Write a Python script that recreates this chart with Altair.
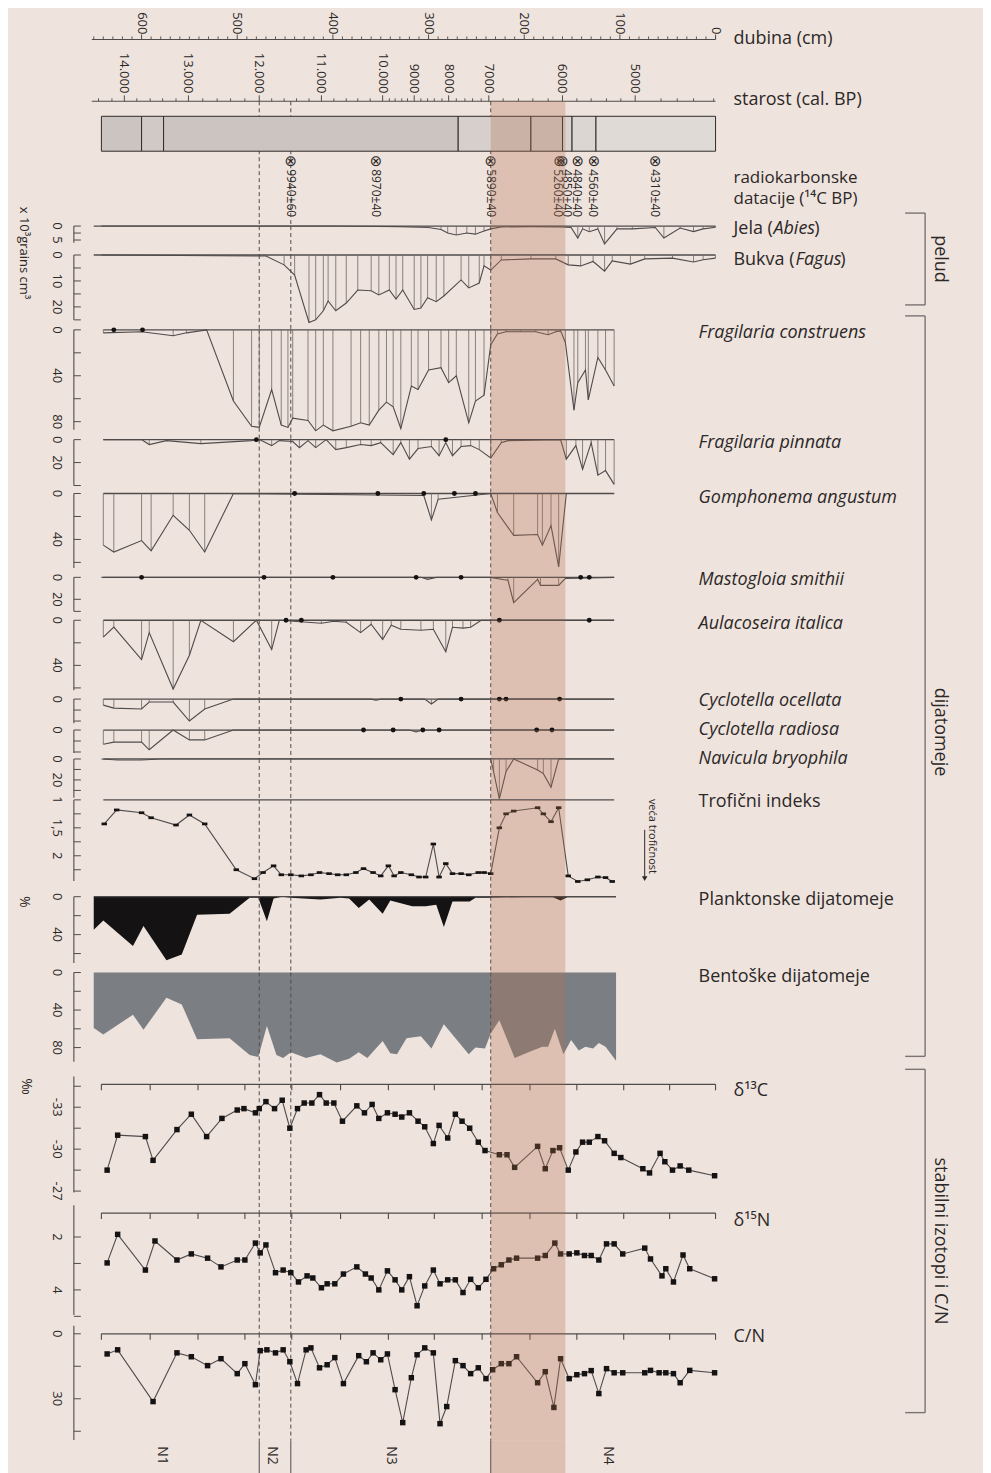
import altair as alt
import pandas as pd

# ---------------------------------------------------------------- style
FONT = "Open Sans"
NUM = "'Liberation Sans Narrow', 'Open Sans', sans-serif"
BG = "#efe3dd"
INK = "#2b2828"
LINE = "#4f4b4b"
HATCH = "#6d6767"
DOT = "#141212"
BAND_COLOR = "#b36f50"
BAND_OP = 0.3
W = 625
XDOM = [652, 0]
LX = 608   # species labels, px from plot left
RX = 643   # other right-hand labels

# ---------------------------------------------------------------- axes / ticks
depth_major = [0, 100, 200, 300, 400, 500, 600]
depth_minor = [0, 10, 20, 30, 40, 50, 60, 70, 80, 90, 110, 120, 130, 140, 150, 160, 170, 180, 190,
               210, 220, 230, 240, 250, 260, 270, 280, 290, 310, 320, 330, 340, 350, 360, 370, 380, 390,
               410, 420, 430, 440, 450, 460, 470, 480, 490, 510, 520, 530, 540, 550, 560, 570, 580, 590,
               610, 620, 630, 640, 650]
age_labels = ["14.000", "13.000", "12.000", "11.000", "10.000", "9000", "8000", "7000", "6000", "5000"]
age_depths = [618, 551, 477, 412, 348, 315, 279, 237, 160, 84]
age_minor = [645, 631, 605, 591, 578, 564, 536, 521, 507, 492, 464, 451, 438, 425, 399, 386, 374, 361,
             341, 335, 328, 322, 308, 301, 294, 286, 271, 262, 254, 245, 222, 206, 191, 175,
             145, 130, 114, 99, 57, 40, 23, 2]
iso_ticks = [642, 591, 541, 492, 443, 392, 342, 294, 244, 194, 145, 96, 48, 0]

# lithology
lith_start = [642, 600, 577, 269, 193, 160, 150, 125]
lith_end = [600, 577, 269, 193, 160, 150, 125, 0]
lith_fill = ["#cbc4c1", "#d0c9c6", "#cbc4c1", "#d6cfcc", "#d6cfcc", "#dad3d0", "#dcd6d3", "#e0dad7"]

# radiocarbon dates
c14_symbol_d = [444, 355, 235, 163, 160, 144, 127, 63]
c14_label_d = [444, 355, 235, 165, 155, 145, 128, 63]
c14_labels = ["9940±60", "8970±40", "5890±40", "5260±40", "4850±40", "4840±40", "4560±40", "4310±40"]

zone_bounds = [477, 444, 235]
band_depths = [235, 157]
zone_names = ["N1", "N2", "N3", "N4"]
zone_label_d = [579, 464, 339, 112]

# ---------------------------------------------------------------- series
jela_d = [642, 400, 330, 300, 287, 280, 271, 260, 251, 242, 235, 224, 193, 162, 151, 144, 139, 132, 123, 116,
          103, 87, 63, 54, 37, 23, 13, 0]
jela_v = [0, 0, 0.2, 0.5, 1.2, 2.5, 3.2, 2.5, 2.9, 1.8, 1, 0.3, 0.2, 0.3, 0.5, 4.3, 1, 2, 1, 6.4,
          1, 1, 0.5, 4.3, 0.7, 2, 1, 0.4]

bukva_d = [642, 470, 451, 440, 425, 418, 410, 405, 397, 386, 374, 360, 352, 341, 334, 327, 315, 308, 301, 292,
           284, 266, 258, 247, 242, 235, 224, 193, 167, 154, 141, 128, 116, 108, 89, 74, 45, 23, 13, 0]
bukva_v = [0, 0.4, 3.8, 7.7, 26, 25, 21.5, 17.7, 21.5, 18.5, 13.5, 13.8, 15.4, 13.5, 17, 13.5, 21, 20.4, 16.5, 18,
           15.8, 9.6, 12.7, 10.8, 4.2, 5.8, 1.9, 1.5, 1.5, 3.8, 4.2, 2.5, 6.2, 2.3, 3.5, 1.5, 1.2, 2.7, 1.8, 1.2]

fcon_d = [640, 600, 567, 553, 532, 504, 485, 477, 464, 454, 447, 442, 426, 418, 410, 400, 381, 371, 362, 352,
          344, 337, 329, 318, 311, 300, 287, 279, 271, 258, 251, 242, 235, 228, 219, 204, 188, 175, 167, 162,
          157, 148, 144, 136, 133, 123, 115, 106]
fcon_v = [2.6, 1.7, 5.2, 2.6, 0, 62, 84, 85, 52, 83, 85, 77, 79, 88, 83, 88, 84, 81, 83, 70,
          63, 67, 86, 49, 52, 35, 33, 46, 40, 81, 62, 57, 13, 3.5, 1.7, 1.7, 1.7, 4.3, 1.7, 0.9,
          11, 70, 46, 35, 61, 24, 35, 49]
fcon_dots = [629, 599]

fpin_d = [640, 600, 592, 574, 538, 485, 477, 464, 456, 442, 435, 426, 418, 407, 397, 386, 371, 360, 350, 337,
          329, 320, 311, 297, 289, 282, 275, 266, 256, 247, 235, 224, 217, 162, 156, 146, 139, 130, 123, 115, 106]
fpin_v = [0, 0, 4.3, 0.9, 3.5, 0.9, 0, 5.2, 0.9, 1.7, 7, 0.9, 7, 0, 8.7, 7, 4.3, 5.2, 2.6, 13,
          2.6, 17, 7.8, 6, 14, 2.6, 14, 6, 5.2, 8.7, 16, 2.6, 0.9, 0, 17, 5.2, 26, 2.6, 31, 27, 39]
fpin_dots = [480, 282]

gomph_d = [640, 629, 600, 590, 567, 550, 534, 504, 305, 297, 290, 235, 228, 211, 186, 181, 172, 164, 156, 106]
gomph_v = [45, 51, 41, 50, 19, 32, 51, 0, 1.7, 23, 5, 0, 16.5, 36.5, 35.7, 45, 28, 64, 0, 0]
gomph_dots = [440, 353, 305, 273, 251]

mast_d = [642, 308, 301, 292, 235, 224, 217, 211, 186, 183, 164, 157, 106]
mast_v = [0, 0, 1.8, 0, 0, 1.8, 2.7, 23, 1.8, 7.3, 7.3, 0.9, 0]
mast_dots = [600, 472, 400, 313, 266, 141, 132]

aul_d = [640, 629, 600, 592, 567, 550, 538, 504, 480, 464, 456, 412, 399, 386, 371, 360, 348, 339, 329, 308,
         295, 282, 275, 264, 256, 245, 106]
aul_v = [15, 6, 35, 11, 61, 31, 0, 19, 0, 26, 0, 2.7, 0.9, 1.8, 11, 3.5, 17, 4.4, 8, 8.8,
         8, 28, 6.2, 7, 6.2, 0, 0]
aul_dots = [449, 433, 226, 132]

coc_d = [640, 629, 600, 592, 567, 550, 534, 504, 360, 355, 350, 304, 297, 290, 106]
coc_v = [5.5, 8.2, 9, 2.7, 2.7, 20, 9, 0, 0, 0.9, 0, 0, 4.5, 0, 0]
coc_dots = [329, 266, 226, 219, 163]

crad_d = [640, 629, 600, 592, 567, 550, 534, 504, 320, 313, 306, 106]
crad_v = [13, 11, 11, 18, 0, 9, 9, 0, 0, 1.8, 0, 0]
crad_dots = [368, 337, 306, 289, 187, 171]

nav_d = [642, 625, 600, 580, 235, 232, 226, 219, 211, 186, 180, 172, 164, 106]
nav_v = [0, 1, 1, 0, 0, 12, 38, 12, 0, 10.5, 14, 27, 0, 0]

trof_d = [639, 626, 600, 590, 564, 550, 534, 501, 482, 473, 462, 454, 444, 433, 423, 414, 404, 395, 386, 376,
          368, 358, 350, 342, 336, 329, 318, 310, 303, 295, 289, 282, 275, 266, 258, 248, 242, 235, 226, 219,
          211, 186, 180, 172, 164, 154, 144, 134, 123, 115, 108]
trof_v = [1.43, 1.18, 1.23, 1.32, 1.45, 1.27, 1.43, 2.25, 2.41, 2.30, 2.18, 2.34, 2.34, 2.36, 2.34, 2.30, 2.32,
          2.34, 2.34, 2.30, 2.23, 2.30, 2.36, 2.18, 2.36, 2.30, 2.34, 2.38, 2.38, 1.79, 2.38, 2.14, 2.32, 2.32,
          2.34, 2.30, 2.30, 2.32, 1.50, 1.25, 1.20, 1.14, 1.25, 1.39, 1.14, 2.36, 2.46, 2.43, 2.38, 2.39, 2.46]

plank_d = [650, 640, 609, 598, 574, 558, 542, 508, 487, 478, 469, 462, 453, 444, 413, 392, 383, 373, 362, 348,
           340, 317, 303, 292, 284, 275, 257, 251, 236, 200, 170, 162, 155, 104]
plank_v = [35, 25, 52, 31, 67, 61, 19, 18, 1, 1, 26, 2, 0, 1, 3, 1, 2, 12, 3, 18,
           4, 10, 10, 8.5, 32, 5, 5, 1, 1, 0.5, 0.5, 4, 0.5, 0.5]

bent_d = [650, 640, 609, 598, 574, 558, 542, 508, 487, 478, 469, 459, 452, 444, 428, 413, 396, 383, 373, 364,
          348, 340, 333, 323, 308, 297, 284, 258, 251, 241, 235, 226, 210, 193, 181, 175, 168, 159, 151, 143,
          136, 128, 122, 115, 104]
bent_v = [59, 66, 45, 61, 27, 34, 71, 70, 88, 90, 57, 88, 91, 85, 91, 87, 96, 92, 85, 91,
          73, 86, 87, 70, 68, 81, 55, 87, 80, 81, 65, 51, 91, 84, 79, 79, 60, 87, 72, 83,
          79, 81, 75, 79, 94]

d13c_d = [636, 625, 596, 588, 563, 548, 532, 516, 500, 493, 481, 477, 470, 461, 453, 445, 437, 430, 422, 414,
          407, 399, 390, 375, 367, 359, 352, 343, 335, 328, 320, 311, 304, 295, 289, 280, 272, 265, 257, 248,
          241, 226, 218, 210, 186, 178, 170, 163, 154, 146, 139, 132, 123, 116, 106, 99, 76, 69, 58, 53,
          45, 37, 28, 1]
d13c_v = [-28.5, -31.0, -30.9, -29.2, -31.4, -32.5, -30.9, -32.2, -32.8, -32.9, -32.6, -32.9, -33.4, -32.9,
          -33.5, -31.5, -32.9, -33.3, -33.3, -33.9, -33.3, -33.3, -32.0, -33.1, -32.6, -33.2, -32.2, -32.6,
          -32.5, -32.3, -32.6, -32.0, -31.6, -30.4, -31.7, -30.8, -32.5, -32.0, -31.5, -30.5, -29.9, -29.6,
          -29.6, -28.7, -30.2, -28.6, -29.9, -30.1, -28.5, -29.8, -30.5, -30.5, -30.9, -30.6, -29.7, -29.4,
          -28.6, -28.3, -29.7, -29.1, -28.5, -28.8, -28.5, -28.1]

d15n_d = [636, 625, 596, 586, 563, 548, 531, 517, 500, 492, 481, 476, 470, 460, 452, 444, 436, 427, 421, 412,
          406, 398, 389, 375, 366, 360, 352, 343, 335, 328, 320, 312, 304, 295, 288, 280, 272, 264, 256, 248,
          240, 232, 224, 216, 208, 186, 178, 168, 162, 153, 145, 137, 130, 122, 114, 106, 97, 74, 68, 56,
          52, 44, 34, 27, 1]
d15n_v = [2.98, 1.9, 3.25, 2.15, 2.87, 2.64, 2.8, 3.13, 2.87, 2.87, 2.23, 2.6, 2.3, 3.35, 3.25, 3.35, 3.7, 3.47,
          3.55, 3.92, 3.77, 3.77, 3.4, 3.13, 3.4, 3.55, 4.0, 3.28, 3.62, 4.0, 3.5, 4.6, 3.85, 3.25, 3.77, 3.62,
          3.62, 4.1, 3.6, 3.92, 3.6, 3.2, 3.05, 2.87, 2.8, 2.8, 2.7, 2.23, 2.64, 2.64, 2.6, 2.7, 2.7, 2.87,
          2.26, 2.26, 2.64, 2.42, 2.83, 3.47, 3.2, 3.7, 2.68, 3.2, 3.58]

cn_d = [636, 625, 588, 563, 548, 531, 517, 500, 492, 481, 476, 469, 460, 452, 445, 437, 428, 423, 414, 406,
        398, 389, 373, 365, 358, 350, 343, 335, 327, 318, 312, 304, 295, 288, 281, 272, 264, 256, 248, 240,
        233, 224, 216, 208, 186, 178, 169, 162, 153, 145, 137, 130, 122, 114, 106, 97, 74, 68, 59, 52,
        44, 37, 27, 1]
cn_v = [9.3, 7.4, 31.3, 8.8, 10.6, 14.7, 11.5, 18.4, 13.8, 23.5, 7.8, 7.4, 8.8, 7.4, 12.9, 23, 7.4, 6.5, 15.7,
        14.3, 11, 23, 10.1, 12.9, 8.8, 12, 9.3, 25.8, 41, 20.3, 9.7, 6.5, 8.8, 41.5, 33.6, 12.4, 14.7, 18.4,
        15.7, 20.7, 16.6, 13.8, 13.8, 10.6, 22.6, 17.5, 34, 11.5, 20.7, 18.9, 18.4, 17, 27.6, 16.1, 18, 18,
        18, 16.9, 18, 18, 18.4, 22.6, 16.9, 18]

# ---------------------------------------------------------------- helpers
ONE = pd.DataFrame({"k": [0]})


def X(f):
    return alt.X(f"{f}:Q", scale=alt.Scale(domain=XDOM, nice=False, zero=False), axis=None)


def ysc(dom):
    return alt.Scale(domain=dom, reverse=True, nice=False, zero=False)


def Y(f, dom):
    return alt.Y(f"{f}:Q", scale=ysc(dom), axis=None)


def fmt(v):
    s = str(int(v)) if float(v).is_integer() else str(v)
    return s.replace(".", ",")


def txt(s, x, y, size=18, style="normal", align="left", angle=0, font=FONT, baseline="middle", color=INK):
    mk = dict(align=align, baseline=baseline, fontSize=size, font=font, fontStyle=style, color=color)
    if angle:
        mk["angle"] = angle
    return alt.Chart(pd.DataFrame({"t": [s]})).mark_text(**mk).encode(
        x=alt.value(x), y=alt.value(y), text="t:N")


def prule(x, y, x2=None, y2=None, color="#7a7474", width=1.4):
    enc = {"x": alt.value(x), "y": alt.value(y)}
    if x2 is not None:
        enc["x2"] = alt.value(x2)
    if y2 is not None:
        enc["y2"] = alt.value(y2)
    return alt.Chart(ONE).mark_rule(color=color, strokeWidth=width).encode(**enc)


def bracket(y0, y1):
    return [prule(835, y0, y2=y1), prule(815, y0, x2=835), prule(815, y1, x2=835)]


BAND = pd.DataFrame({"b1": [band_depths[0]], "b2": [band_depths[1]]})


def band(h):
    return alt.Chart(BAND).mark_rect(color=BAND_COLOR, opacity=BAND_OP).encode(
        x=X("b1"), x2="b2", y=alt.value(0), y2=alt.value(h))


ZB = pd.DataFrame({"d": zone_bounds})


def zlines(h, dashed=True):
    mk = dict(color=LINE, strokeWidth=1)
    if dashed:
        mk["strokeDash"] = [4, 3]
    return alt.Chart(ZB).mark_rule(**mk).encode(x=X("d"), y=alt.value(0), y2=alt.value(h))


def yaxis(dom, ticks, labels, a0, a1):
    """left value axis drawn as marks: line at x=-18, ticks pointing right, rotated labels"""
    line = alt.Chart(pd.DataFrame({"a0": [a0], "a1": [a1]})).mark_rule(color=LINE, strokeWidth=1.1).encode(
        x=alt.value(-18), y=Y("a0", dom), y2="a1")
    tk = alt.Chart(pd.DataFrame({"t": ticks})).mark_rule(color=LINE, strokeWidth=1).encode(
        x=alt.value(-18), x2=alt.value(-11), y=Y("t", dom))
    lb = alt.Chart(pd.DataFrame({"t": labels, "s": [fmt(v) for v in labels]})).mark_text(
        angle=90, align="center", baseline="top", font=NUM, fontSize=13, color=INK).encode(
        x=alt.value(-29), y=Y("t", dom), text="s:N")
    return [line, tk, lb]


def baseline(dom, d1, d2, v=0, width=1.3):
    df = pd.DataFrame({"d1": [d1], "d2": [d2], "v": [v]})
    return alt.Chart(df).mark_rule(color=LINE, strokeWidth=width).encode(x=X("d1"), x2="d2", y=Y("v", dom))


def species(d, v, dots, h, dom, ticks, labels, a1, rng, right):
    df = pd.DataFrame({"d": d, "v": v, "z": [0] * len(d)})
    L = [zlines(h)] + yaxis(dom, ticks, labels, dom[0], a1) + [baseline(dom, rng[0], rng[1])]
    L.append(alt.Chart(df).mark_rule(color=HATCH, strokeWidth=0.8).encode(x=X("d"), y=Y("v", dom), y2="z"))
    L.append(alt.Chart(df).mark_line(color=LINE, strokeWidth=1.1).encode(x=X("d"), y=Y("v", dom)))
    if dots:
        dd = pd.DataFrame({"d": dots, "v": [0] * len(dots)})
        L.append(alt.Chart(dd).mark_circle(color=DOT, size=24, opacity=1).encode(x=X("d"), y=Y("v", dom)))
    L.append(band(h))
    L += right
    return alt.layer(*L).properties(width=W, height=h)


def iso_top():
    line = alt.Chart(pd.DataFrame({"d1": [642], "d2": [0]})).mark_rule(color=LINE, strokeWidth=1.2).encode(
        x=X("d1"), x2="d2", y=alt.value(0))
    ticks = alt.Chart(pd.DataFrame({"d": iso_ticks})).mark_rule(color=LINE, strokeWidth=1.1).encode(
        x=X("d"), y=alt.value(0), y2=alt.value(6))
    return [line, ticks]


def iso(d, v, h, dom, ticks, labels, a0, a1, right):
    df = pd.DataFrame({"d": d, "v": v})
    L = [zlines(h)] + yaxis(dom, ticks, labels, a0, a1) + iso_top()
    L.append(alt.Chart(df).mark_line(color=LINE, strokeWidth=1.1).encode(x=X("d"), y=Y("v", dom)))
    L.append(alt.Chart(df).mark_square(color=DOT, size=30, opacity=1).encode(x=X("d"), y=Y("v", dom)))
    L.append(band(h))
    L += right
    return alt.layer(*L).properties(width=W, height=h)


# ---------------------------------------------------------------- P0 depth + age axes
H0 = 62
p0 = alt.layer(
    alt.Chart(pd.DataFrame({"d1": [652], "d2": [0]})).mark_rule(color=LINE, strokeWidth=1.1).encode(
        x=X("d1"), x2="d2", y=alt.value(0)),
    alt.Chart(pd.DataFrame({"d": depth_minor})).mark_rule(color=LINE, strokeWidth=0.9).encode(
        x=X("d"), y=alt.value(0), y2=alt.value(-3)),
    alt.Chart(pd.DataFrame({"d": depth_major})).mark_rule(color=LINE, strokeWidth=1).encode(
        x=X("d"), y=alt.value(0), y2=alt.value(-5)),
    alt.Chart(pd.DataFrame({"d": depth_major, "t": [str(v) for v in depth_major]})).mark_text(
        angle=90, align="right", baseline="middle", font=NUM, fontSize=13, color=INK).encode(
        x=X("d"), y=alt.value(-5), text="t:N"),
    alt.Chart(pd.DataFrame({"d1": [652], "d2": [0]})).mark_rule(color=LINE, strokeWidth=1.1).encode(
        x=X("d1"), x2="d2", y=alt.value(H0)),
    alt.Chart(pd.DataFrame({"d": age_minor})).mark_rule(color=LINE, strokeWidth=0.9).encode(
        x=X("d"), y=alt.value(H0), y2=alt.value(H0 - 3)),
    alt.Chart(pd.DataFrame({"d": age_depths})).mark_rule(color=LINE, strokeWidth=1).encode(
        x=X("d"), y=alt.value(H0), y2=alt.value(H0 - 6)),
    alt.Chart(pd.DataFrame({"d": age_depths, "t": age_labels})).mark_text(
        angle=90, align="right", baseline="middle", font=NUM, fontSize=13, color=INK).encode(
        x=X("d"), y=alt.value(54), text="t:N"),
    txt("dubina (cm)", RX, 0, size=18),
    txt("starost (cal. BP)", RX, 61, size=18),
).properties(width=W, height=H0)

# ---------------------------------------------------------------- P1 lithology + dates
H1 = 125
lith = pd.DataFrame({"s": lith_start, "e": lith_end, "c": lith_fill})
p1 = alt.layer(
    zlines(H1),
    alt.Chart(lith).mark_rect(stroke="#2e2a2a", strokeWidth=1).encode(
        x=X("s"), x2="e", y=alt.value(15), y2=alt.value(50), color=alt.Color("c:N", scale=None)),
    alt.Chart(pd.DataFrame({"d": c14_symbol_d, "t": ["⊗"] * len(c14_symbol_d)})).mark_text(
        font="DejaVu Sans", fontSize=15, color=INK, align="center", baseline="middle").encode(
        x=X("d"), y=alt.value(60), text="t:N"),
    alt.Chart(pd.DataFrame({"d": c14_label_d, "t": c14_labels})).mark_text(
        angle=90, align="left", baseline="middle", font=NUM, fontSize=12, color=INK).encode(
        x=X("d"), y=alt.value(68), text="t:N"),
    band(H1),
    txt("radiokarbonske", RX, 77, size=17),
    txt("datacije (¹⁴C BP)", RX, 98, size=17),
).properties(width=W, height=H1)

# ---------------------------------------------------------------- pollen
p2 = species(jela_d, jela_v, [], 29, [0, 10.36], [0, 2.5, 5], [0, 5], 6, (650, 0),
             [txt("Jela (", RX, 3), txt("Abies", RX + 40, 3, style="italic"), txt(")", RX + 81, 3)] +
             bracket(-13, 79) + [txt("pelud", 850, 33, angle=90, align="center")])
p3 = species(bukva_d, bukva_v, [], 75, [0, 28.85], [0, 5, 10, 15, 20, 25], [0, 10, 20], 25, (650, 0),
             [txt("Bukva (", RX, 5), txt("Fagus", RX + 62, 5, style="italic"), txt(")", RX + 107, 5),
              txt("x 10³grains cm³", -68, -2, size=13, angle=90, align="center", font=NUM)])

# ---------------------------------------------------------------- diatoms
DR = (640, 106)
p4 = species(fcon_d, fcon_v, fcon_dots, 110, [0, 95.65], [0, 20, 40, 60, 80], [0, 40, 80], 87, DR,
             [txt("Fragilaria construens", LX, 3, style="italic")] + bracket(-14, 728) +
             [txt("dijatomeje", 850, 403, angle=90, align="center")])
p5 = species(fpin_d, fpin_v, fpin_dots, 54, [0, 46.96], [0, 20, 40], [0, 20], 40, DR,
             [txt("Fragilaria pinnata", LX, 3, style="italic")])
p6 = species(gomph_d, gomph_v, gomph_dots, 84, [0, 73.04], [0, 20, 40, 60], [0, 40], 65, DR,
             [txt("Gomphonema angustum", LX, 5, style="italic")])
p7 = species(mast_d, mast_v, mast_dots, 43, [0, 39.09], [0, 20, 31], [0, 20], 31, DR,
             [txt("Mastogloia smithii", LX, 3, style="italic")])
p8 = species(aul_d, aul_v, aul_dots, 79, [0, 69.91], [0, 20, 40, 60], [0, 40], 62, DR,
             [txt("Aulacoseira italica", LX, 4, style="italic")])
p9 = species(coc_d, coc_v, coc_dots, 31, [0, 28.18], [0, 10, 20], [0], 22, DR,
             [txt("Cyclotella ocellata", LX, 2, style="italic")])
p10 = species(crad_d, crad_v, crad_dots, 29, [0, 26.36], [0, 10, 20], [0], 21, DR,
              [txt("Cyclotella radiosa", LX, 0, style="italic")])
p11 = species(nav_d, nav_v, [], 41, [0, 39.05], [0, 10, 20, 30], [0, 20], 37, DR,
              [txt("Navicula bryophila", LX, 0, style="italic")])

# trophic index
H12 = 97
TDOM = [1, 2.732]
tdf = pd.DataFrame({"d": trof_d, "v": trof_v})
p12 = alt.layer(*(
    [zlines(H12)] + yaxis(TDOM, [1, 1.25, 1.5, 1.75, 2, 2.25], [1, 1.5, 2], 1, 2.45) +
    [baseline(TDOM, 640, 106, v=1),
     alt.Chart(tdf).mark_line(color=LINE, strokeWidth=1.1).encode(x=X("d"), y=Y("v", TDOM)),
     alt.Chart(tdf).mark_point(shape="M-1,-0.5L1,-0.5L1,0.5L-1,0.5Z", filled=True, size=30, color=DOT,
                               opacity=1).encode(x=X("d"), y=Y("v", TDOM)),
     band(H12),
     txt("Trofični indeks", LX, 2),
     txt("veća trofičnost", 561, -1, size=11, angle=90, font=NUM),
     prule(554, 30, y2=78, color=INK, width=1),
     alt.Chart(ONE).mark_point(shape="triangle-down", filled=True, size=30, color=INK, opacity=1).encode(
         x=alt.value(554), y=alt.value(79))]
)).properties(width=W, height=H12)

# planktonic / benthic
H13 = 76
PDOM = [0, 80]
p13 = alt.layer(*(
    yaxis(PDOM, [0, 20, 40, 60], [0, 40], 0, 70) +
    [alt.Chart(pd.DataFrame({"d": plank_d, "v": plank_v, "z": [0] * len(plank_d)})).mark_area(
        color="#141212", opacity=1).encode(x=X("d"), y=Y("v", PDOM), y2="z"),
     baseline(PDOM, 650, 104, width=1.2),
     zlines(H13),
     band(H13),
     txt("Planktonske dijatomeje", LX, 3),
     txt("%", -68, 5, size=14, angle=90, align="center", font=NUM)]
)).properties(width=W, height=H13)

H14 = 112
BDOM = [0, 119.15]
p14 = alt.layer(*(
    yaxis(BDOM, [0, 20, 40, 60, 80], [0, 40, 80], 0, 95) +
    [alt.Chart(pd.DataFrame({"d": bent_d, "v": bent_v, "z": [0] * len(bent_d)})).mark_area(
        color="#7b7f83", opacity=1).encode(x=X("d"), y=Y("v", BDOM), y2="z"),
     zlines(H14),
     band(H14),
     txt("Bentoške dijatomeje", LX, 4)]
)).properties(width=W, height=H14)

# ---------------------------------------------------------------- isotopes
p15 = iso(d13c_d, d13c_v, 129, [-34.64, -25.43], [-34.5, -33, -31.5, -30, -28.5, -27], [-33, -30, -27],
          -35.2, -26.9,
          [txt("δ¹³C", RX, 7), txt("‰", -66, 2, size=14, angle=90, align="center", font=NUM)] +
          bracket(-15, 329) + [txt("stabilni izotopi i C/N", 850, 157, angle=90, align="center")])
p16 = iso(d15n_d, d15n_v, 121, [1.094, 5.66], [2, 3, 4, 5], [2, 4], 0.8, 4.95, [txt("δ¹⁵N", RX, 8)])
p17 = iso(cn_d, cn_v, 107, [0, 49.3], [0, 15, 30, 45], [0, 30], -3.7, 49, [txt("C/N", RX, 3)])

# ---------------------------------------------------------------- zones
H18 = 33
p18 = alt.layer(
    zlines(H18, dashed=False),
    band(H18),
    alt.Chart(pd.DataFrame({"d": zone_label_d, "t": zone_names})).mark_text(
        angle=90, align="center", baseline="middle", font=NUM, fontSize=14, color=INK).encode(
        x=X("d"), y=alt.value(15), text="t:N"),
).properties(width=W, height=H18)

chart = alt.vconcat(p0, p1, p2, p3, p4, p5, p6, p7, p8, p9, p10, p11, p12, p13, p14, p15, p16, p17, p18,
                    spacing=0, bounds="flush").resolve_scale(
    x="independent", y="independent").properties(
    background=BG, padding={"left": 9, "top": 2, "right": 34, "bottom": 5}).configure_view(strokeWidth=0)

chart.save("out.html", embed_options={"renderer": "svg", "actions": False})
